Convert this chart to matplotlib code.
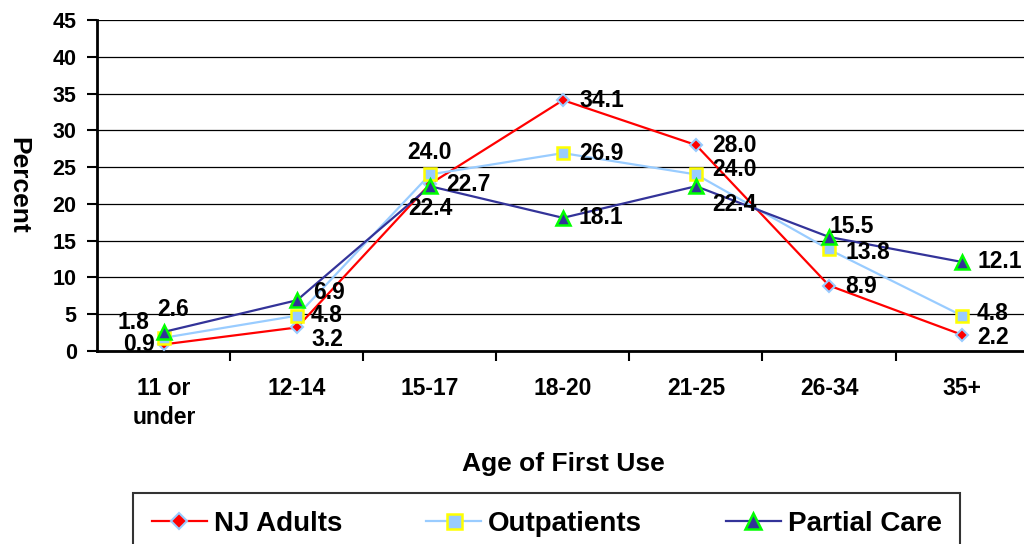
import matplotlib
matplotlib.use("Agg")
import matplotlib.pyplot as plt
from matplotlib.ticker import MultipleLocator, FixedLocator

plt.rcParams["font.family"] = ["Liberation Sans", "DejaVu Sans"]
plt.rcParams["font.weight"] = "bold"

# ── data ─────────────────────────────────────────────────────────────────────
ages = ["11 or\nunder", "12-14", "15-17", "18-20", "21-25", "26-34", "35+"]
nj_adults = [0.9, 3.2, 22.7, 34.1, 28.0, 8.9, 2.2]
outpatients = [1.8, 4.8, 24.0, 26.9, 24.0, 13.8, 4.8]
partial_care = [2.6, 6.9, 22.4, 18.1, 22.4, 15.5, 12.1]

# label offsets in pixels (dx, dy, ha)
nj_off = [(-9, 0, "right"), (14, -12, "left"), (16, 0, "left"), (16, 0, "left"),
          (16, 0, "left"), (16, -1, "left"), (15, -3, "left")]
op_off = [(-15, 15, "right"), (14, 0, "left"), (0, 22, "center"), (16, 0, "left"),
          (16, 5, "left"), (16, -3, "left"), (15, 2, "left")]
pc_off = [(9, 22, "center"), (16, 8, "left"), (0, -22, "center"), (16, 0, "left"),
          (16, -18, "left"), (0, 10, "left"), (15, 0, "left")]

fig = plt.figure(figsize=(10.24, 5.44), dpi=100)
ax = fig.add_axes([0.0952, 0.3548, 0.9092, 0.6085])

x = list(range(len(ages)))
series = [
    ("NJ Adults", nj_adults, nj_off,
     dict(color="#FF0000", marker="D", markersize=6.5, markerfacecolor="#FF0000",
          markeredgecolor="#99CCFF", markeredgewidth=1.5)),
    ("Outpatients", outpatients, op_off,
     dict(color="#99CCFF", marker="s", markersize=9, markerfacecolor="#99CCFF",
          markeredgecolor="#FFFF00", markeredgewidth=1.8)),
    ("Partial Care", partial_care, pc_off,
     dict(color="#333399", marker="^", markersize=9.5, markerfacecolor="#333399",
          markeredgecolor="#00FF00", markeredgewidth=1.8)),
]

for name, vals, offs, style in series:
    ax.plot(x, vals, label=name, linewidth=1.6, zorder=3, **style)
    for xi, v, (dx, dy, ha) in zip(x, vals, offs):
        ax.annotate(f"{v:.1f}", (xi, v), xytext=(dx, dy), textcoords="offset pixels",
                    ha=ha, va="center", fontsize=16.5, fontweight="bold", zorder=4)

ax.set_xlim(-0.5, 6.5)
ax.set_ylim(0, 45)
ax.yaxis.set_major_locator(MultipleLocator(5))
ax.grid(axis="y", color="black", linewidth=0.9, zorder=0)
ax.set_axisbelow(True)

ax.set_xticks(x)
ax.set_xticklabels(ages, fontsize=16.5, fontweight="bold", linespacing=1.3)
ax.xaxis.set_minor_locator(FixedLocator([i + 0.5 for i in range(6)]))
ax.tick_params(axis="x", which="major", length=0, pad=19)
ax.tick_params(axis="x", which="minor", length=7, width=1.5, direction="out")
ax.tick_params(axis="y", length=7, width=1.5, pad=8, labelsize=15.5)
for lab in ax.get_yticklabels():
    lab.set_fontweight("bold")

for s in ("top", "right"):
    ax.spines[s].set_visible(False)
for s in ("left", "bottom"):
    ax.spines[s].set_linewidth(2)

ax.set_xlabel("Age of First Use", fontsize=19, fontweight="bold", labelpad=17)
fig.text(0.018, 0.66, "Percent", rotation=-90, fontsize=19, fontweight="bold",
         ha="center", va="center")

leg = ax.legend(loc="upper center", bbox_to_anchor=(0.534, 0.094),
                bbox_transform=fig.transFigure, ncol=3, fontsize=20,
                frameon=True, fancybox=False, edgecolor="black",
                handlelength=2.0, handletextpad=0.25, columnspacing=3.0,
                borderpad=0.65, borderaxespad=0, markerscale=1.2)
leg.get_frame().set_linewidth(1.5)
for t in leg.get_texts():
    t.set_fontweight("bold")

fig.savefig("out.png", dpi=100)
